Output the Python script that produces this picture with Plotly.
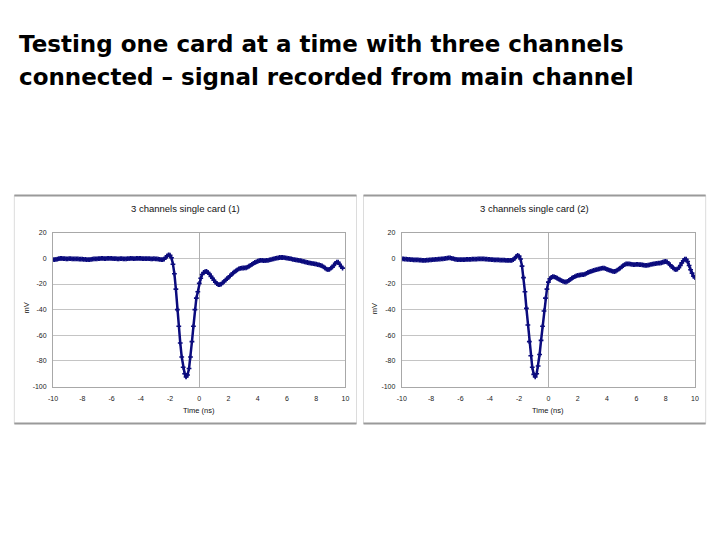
"""
Слайд: два осциллографических сигнала (3 канала, одна карта) в Plotly.
"""
import plotly.graph_objects as go

# Время отсчётов, нс (шаг 0.1)
time_ns = [round(-10 + 0.1 * i, 1) for i in range(201)]

# Сигнал, карта (1), мВ: от -10.0 до 9.8 нс
card1_mv = [
    -1.0, -0.9, -0.7, -0.5, -0.2, 0.0, 0.0, -0.1, -0.2, -0.3,
    -0.3, -0.2, -0.2, -0.3, -0.4, -0.4, -0.3, -0.4, -0.5, -0.6,
    -0.6, -0.7, -0.8, -0.9, -1.0, -0.9, -0.7, -0.5, -0.4, -0.3,
    -0.3, -0.2, -0.1, 0.0, 0.0, -0.1, -0.1, 0.0, 0.1, 0.1,
    0.0, -0.1, -0.2, -0.2, -0.3, -0.3, -0.2, -0.2, -0.3, -0.3,
    -0.3, -0.2, -0.1, 0.0, 0.0, -0.1, -0.1, 0.0, 0.1, 0.0,
    0.0, -0.1, -0.2, -0.2, -0.1, -0.1, -0.2, -0.3, -0.3, -0.2,
    -0.3, -0.4, -0.6, -0.8, -1.0, -0.9, -0.5, 0.6, 2.0, 2.8,
    2.5, 0.5, -4.5, -12.0, -24.0, -40.0, -53.0, -66.0, -77.0, -85.0,
    -90.0, -92.5, -91.0, -86.0, -77.0, -65.0, -53.0, -40.0, -31.0, -26.0,
    -19.5, -15.5, -12.5, -11.0, -10.3, -10.2, -11.0, -12.3, -14.0, -15.5,
    -17.0, -18.5, -19.6, -20.4, -20.5, -20.0, -19.0, -18.0, -17.0, -15.8,
    -14.8, -13.7, -12.6, -11.5, -10.5, -9.7, -8.9, -8.2, -7.8, -7.6,
    -7.5, -7.4, -7.3, -6.8, -6.1, -5.5, -4.7, -3.9, -3.2, -2.7,
    -2.2, -1.8, -1.6, -1.6, -1.7, -1.7, -1.6, -1.5, -1.2, -0.9,
    -0.6, -0.3, 0.0, 0.3, 0.5, 0.7, 0.7, 0.7, 0.6, 0.4,
    0.2, 0.0, -0.2, -0.4, -0.7, -0.9, -1.1, -1.3, -1.5, -1.8,
    -2.0, -2.3, -2.6, -2.9, -3.2, -3.5, -3.7, -3.9, -4.1, -4.3,
    -4.5, -4.8, -5.1, -5.5, -5.9, -6.6, -7.5, -8.3, -8.8, -8.5,
    -7.6, -6.8, -5.4, -3.9, -2.9, -3.0, -4.5, -6.3, -7.6,
]

# Сигнал, карта (2), мВ: от -10.0 до 10.0 нс
card2_mv = [
    -0.3, -0.4, -0.5, -0.6, -0.7, -0.8, -0.9, -1.0, -1.1, -1.1,
    -1.1, -1.2, -1.3, -1.4, -1.5, -1.6, -1.5, -1.4, -1.3, -1.2,
    -1.1, -1.0, -0.9, -0.8, -0.7, -0.6, -0.5, -0.4, -0.3, -0.1,
    0.1, 0.3, 0.5, 0.4, 0.1, -0.2, -0.5, -0.7, -0.9, -1.0,
    -1.0, -1.0, -0.9, -0.9, -0.8, -0.8, -0.7, -0.7, -0.6, -0.6,
    -0.6, -0.5, -0.4, -0.3, -0.3, -0.3, -0.4, -0.5, -0.6, -0.7,
    -0.8, -0.9, -1.0, -1.1, -1.1, -1.2, -1.2, -1.3, -1.3, -1.4,
    -1.4, -1.5, -1.5, -1.6, -1.6, -1.5, -1.0, 0.0, 1.5, 2.3,
    1.8, -0.5, -6.0, -15.0, -26.0, -39.0, -52.0, -65.0, -76.0, -85.0,
    -90.5, -92.5, -90.0, -84.0, -75.0, -64.0, -53.0, -41.0, -31.0, -24.0,
    -18.5, -16.0, -14.8, -14.2, -14.4, -14.8, -15.5, -16.2, -16.8, -17.4,
    -17.9, -18.3, -18.4, -18.0, -17.2, -16.3, -15.5, -14.8, -14.2, -13.7,
    -13.3, -13.0, -12.8, -12.7, -12.6, -12.2, -11.6, -11.0, -10.5, -10.1,
    -9.7, -9.4, -9.0, -8.7, -8.4, -8.1, -7.8, -7.6, -7.6, -8.0,
    -8.5, -8.9, -9.4, -9.8, -10.1, -10.2, -9.9, -9.2, -8.4, -7.6,
    -6.6, -5.6, -4.8, -4.3, -4.2, -4.3, -4.5, -4.6, -4.8, -4.8,
    -4.7, -4.7, -4.8, -4.8, -5.0, -5.2, -5.4, -5.5, -5.3, -5.0,
    -4.7, -4.4, -4.2, -4.0, -3.8, -3.7, -3.6, -3.4, -3.0, -2.6,
    -2.4, -2.8, -3.8, -5.0, -6.2, -7.4, -8.3, -8.7, -8.4, -7.2,
    -5.5, -3.5, -1.8, -0.5, -0.6, -2.5, -5.5, -8.8, -11.5, -13.8,
    -15.0,
]

# Подписи делений (дефис, как в Excel)
x_ticks = [-10, -8, -6, -4, -2, 0, 2, 4, 6, 8, 10]
x_tick_text = ["-10", "-8", "-6", "-4", "-2", "0", "2", "4", "6", "8", "10"]
y_ticks = [-100, -80, -60, -40, -20, 0, 20]
y_tick_text = ["-100", "-80", "-60", "-40", "-20", "0", "20"]

panel_titles = ["3 channels single card (1)", "3 channels single card (2)"]
slide_lines = [
    "Testing one card at a time with three channels",
    "connected – signal recorded from main channel",
]

W, H = 720, 540
FONT = "Liberation Sans, Arial, sans-serif"
TITLE_FONT = "DejaVu Sans, Liberation Sans, sans-serif"
NAVY = "#0b0b7d"
# снимок окна выходит чуть сжатым к центру, поправка
SCALE = 0.987


def px(x):
    return ((x - W / 2) / SCALE + W / 2) / W


def py(y):
    return 1 - ((y - H / 2) / SCALE + H / 2) / H


def label(fig, text, x, y, size, angle=0):
    """Подпись по центру в пиксельных координатах."""
    fig.add_annotation(text=text, xref="paper", yref="paper",
                       x=px(x), y=py(y), xanchor="center", yanchor="middle",
                       textangle=angle, showarrow=False,
                       font=dict(family=FONT, size=size, color="#111"))


fig = go.Figure()

# рамки панелей (в пикселях) и области графиков
panels = [
    dict(frame=(14, 356), plot=(52.7, 345.0)),
    dict(frame=(363, 705), plot=(401.3, 694.3)),
]
plot_top, plot_bottom = 232.3, 386.0
frame_top, frame_bottom = 195, 423
tick_font = dict(family=FONT, size=7, color="#222")

for i, (p, series) in enumerate(zip(panels, [card1_mv, card2_mv])):
    n = "" if i == 0 else str(i + 1)
    fig.add_trace(go.Scatter(
        x=time_ns[:len(series)], y=series,
        mode="lines+markers",
        line=dict(color=NAVY, width=2.5),
        marker=dict(symbol="cross", size=4, color=NAVY),
        xaxis="x" + n, yaxis="y" + n, showlegend=False,
        hoverinfo="skip",
    ))
    fig.update_layout(**{
        "xaxis" + n: dict(
            domain=[px(p["plot"][0]), px(p["plot"][1])],
            anchor="y" + n, range=[-10, 10],
            tickvals=x_ticks, ticktext=x_tick_text,
            showgrid=False, zeroline=True, zerolinecolor="#b0b0b0",
            zerolinewidth=1, showline=True, mirror=True,
            linecolor="#a8a8a8", linewidth=1, ticks="",
            ticklabelstandoff=5, tickfont=tick_font,
        ),
        "yaxis" + n: dict(
            domain=[py(plot_bottom), py(plot_top)],
            anchor="x" + n, range=[-100, 20],
            tickvals=y_ticks, ticktext=y_tick_text,
            showgrid=True, gridcolor="#c4c4c4", gridwidth=1,
            zeroline=False, showline=True, mirror=True,
            linecolor="#a8a8a8", linewidth=1, ticks="",
            ticklabelstandoff=4, tickfont=tick_font,
        ),
    })

    x0, x1 = p["frame"]
    # светлые боковые стороны рамки и тёмные верх/низ
    fig.add_shape(type="rect", xref="paper", yref="paper",
                  x0=px(x0), x1=px(x1), y0=py(frame_bottom), y1=py(frame_top),
                  line=dict(color="#dcdcdc", width=1), layer="below")
    for yy in (frame_top, frame_bottom):
        fig.add_shape(type="line", xref="paper", yref="paper",
                      x0=px(x0), x1=px(x1), y0=py(yy), y1=py(yy),
                      line=dict(color="#9a9a9a", width=2))

    label(fig, panel_titles[i], (x0 + x1) / 2, 208, 9.5)
    label(fig, "Time (ns)", (p["plot"][0] + p["plot"][1]) / 2, 410, 7.5)
    label(fig, "mV", p["plot"][0] - 27, 308, 7.5, angle=-90)

# заголовок слайда, две строки
for line, yc in zip(slide_lines, (44, 77)):
    fig.add_annotation(text="<b>%s</b>" % line, xref="paper", yref="paper",
                       x=px(17), y=py(yc), xanchor="left", yanchor="middle",
                       align="left", showarrow=False,
                       font=dict(family=TITLE_FONT, size=23, color="#000"))

fig.update_layout(
    width=W, height=H, margin=dict(t=0, b=0, l=0, r=0),
    plot_bgcolor="white", paper_bgcolor="white",
    font=dict(family=FONT),
)

# убираем отступ body, чтобы график стоял ровно в окне 720x540
fig.write_html("out.html", config={"displayModeBar": False},
               post_script="document.body.style.margin='0';")
